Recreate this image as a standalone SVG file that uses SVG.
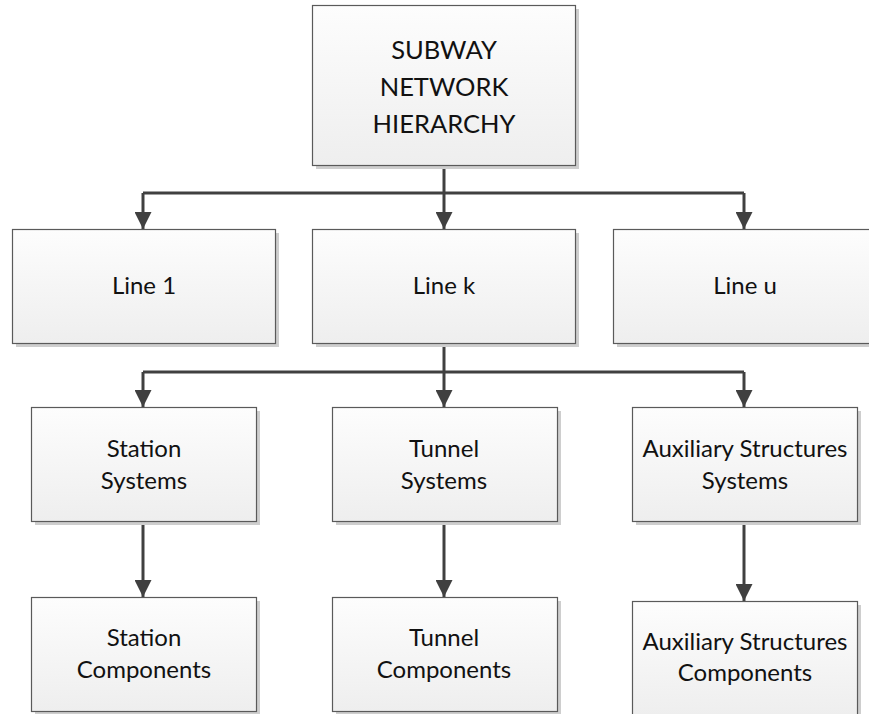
<svg xmlns="http://www.w3.org/2000/svg" width="869" height="714" viewBox="0 0 869 714">
  <defs>
    <linearGradient id="boxFill" x1="0" y1="0" x2="0" y2="1">
      <stop offset="0" stop-color="#fdfdfd"/>
      <stop offset="1" stop-color="#eeeeee"/>
    </linearGradient>
    <marker id="arrow" viewBox="0 0 17 17" refX="17" refY="8.5" markerWidth="17" markerHeight="17" markerUnits="userSpaceOnUse" orient="auto">
      <path d="M0,0 L17,8.5 L0,17 Z" fill="#404040"/>
    </marker>
  </defs>
  <style>
    .shadow { fill: #cecece; }
    .box { fill: url(#boxFill); stroke: #5a5a5a; stroke-width: 1.2; }
    .label { font-family: Lato, "Open Sans", sans-serif; font-size: 24px; fill: #111; text-anchor: middle; }
    .title { font-size: 25.5px; }
    .conn { fill: none; stroke: #404040; stroke-width: 3; }
  </style>
  <rect width="869" height="714" fill="#ffffff"/>

  <!-- connectors -->
  <g id="connectors">
    <path class="conn" d="M444,165 V193"/>
    <path class="conn" d="M143,193 H744"/>
    <path class="conn" d="M143,193 V229" marker-end="url(#arrow)"/>
    <path class="conn" d="M444,193 V229" marker-end="url(#arrow)"/>
    <path class="conn" d="M744,193 V229" marker-end="url(#arrow)"/>
    <path class="conn" d="M444,343 V372"/>
    <path class="conn" d="M143,372 H744"/>
    <path class="conn" d="M143,372 V407" marker-end="url(#arrow)"/>
    <path class="conn" d="M444,372 V407" marker-end="url(#arrow)"/>
    <path class="conn" d="M744,372 V407" marker-end="url(#arrow)"/>
    <path class="conn" d="M143,521 V597" marker-end="url(#arrow)"/>
    <path class="conn" d="M444,521 V597" marker-end="url(#arrow)"/>
    <path class="conn" d="M744,521 V601" marker-end="url(#arrow)"/>
  </g>

  <g id="root">
    <rect class="shadow" x="316" y="9" width="263" height="160"/>
    <rect class="box" x="312.5" y="5.5" width="263" height="160"/>
    <text class="label title" x="444" y="59">SUBWAY</text>
    <text class="label title" x="444" y="96">NETWORK</text>
    <text class="label title" x="444" y="133">HIERARCHY</text>
  </g>

  <g id="line1">
    <rect class="shadow" x="16" y="233" width="263" height="114"/>
    <rect class="box" x="12.5" y="229.5" width="263" height="114"/>
    <text class="label" x="144" y="294">Line 1</text>
  </g>

  <g id="linek">
    <rect class="shadow" x="316" y="233" width="263" height="114"/>
    <rect class="box" x="312.5" y="229.5" width="263" height="114"/>
    <text class="label" x="444" y="294">Line k</text>
  </g>

  <g id="lineu">
    <rect class="shadow" x="617" y="233" width="263" height="114"/>
    <rect class="box" x="613.5" y="229.5" width="263" height="114"/>
    <text class="label" x="745" y="294">Line u</text>
  </g>

  <g id="station-systems">
    <rect class="shadow" x="35" y="411" width="225" height="114"/>
    <rect class="box" x="31.5" y="407.5" width="225" height="114"/>
    <text class="label" x="144" y="457">Station</text>
    <text class="label" x="144" y="489">Systems</text>
  </g>

  <g id="tunnel-systems">
    <rect class="shadow" x="336" y="411" width="225" height="114"/>
    <rect class="box" x="332.5" y="407.5" width="225" height="114"/>
    <text class="label" x="444" y="457">Tunnel</text>
    <text class="label" x="444" y="489">Systems</text>
  </g>

  <g id="aux-systems">
    <rect class="shadow" x="636" y="411" width="225" height="114"/>
    <rect class="box" x="632.5" y="407.5" width="225" height="114"/>
    <text class="label" x="745" y="457">Auxiliary Structures</text>
    <text class="label" x="745" y="489">Systems</text>
  </g>

  <g id="station-components">
    <rect class="shadow" x="35" y="601" width="225" height="114"/>
    <rect class="box" x="31.5" y="597.5" width="225" height="114"/>
    <text class="label" x="144" y="646">Station</text>
    <text class="label" x="144" y="678">Components</text>
  </g>

  <g id="tunnel-components">
    <rect class="shadow" x="336" y="601" width="225" height="114"/>
    <rect class="box" x="332.5" y="597.5" width="225" height="114"/>
    <text class="label" x="444" y="646">Tunnel</text>
    <text class="label" x="444" y="678">Components</text>
  </g>

  <g id="aux-components">
    <rect class="shadow" x="636" y="605" width="225" height="114"/>
    <rect class="box" x="632.5" y="601.5" width="225" height="114"/>
    <text class="label" x="745" y="650">Auxiliary Structures</text>
    <text class="label" x="745" y="681">Components</text>
  </g>
</svg>
